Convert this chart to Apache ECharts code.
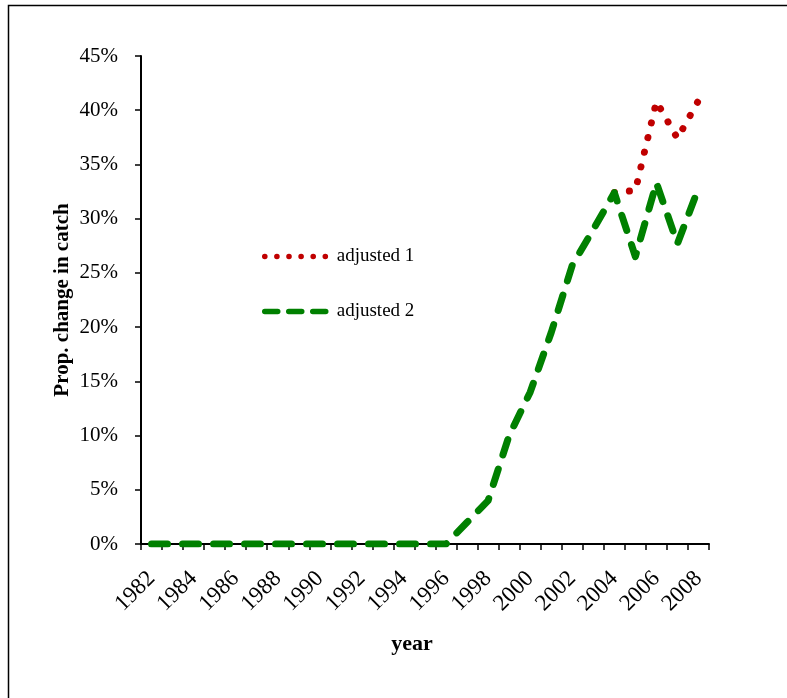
<!DOCTYPE html>
<html>
<head>
<meta charset="utf-8">
<script src="https://cdn.jsdelivr.net/npm/echarts@6/dist/echarts.min.js"></script>
<style>
html,body{margin:0;padding:0;background:#fff;}
#chart{width:787px;height:698px;}
</style>
</head>
<body>
<div id="chart"></div>
<script>
const years = ['1982','1983','1984','1985','1986','1987','1988','1989','1990','1991','1992','1993','1994','1995','1996','1997','1998','1999','2000','2001','2002','2003','2004','2005','2006','2007','2008'];
const adjusted1 = [null,null,null,null,null,null,null,null,null,null,null,null,null,null,null,null,null,null,null,null,null,null,32.4,32.6,40.8,37.4,40.9];
const adjusted2 = [0,0,0,0,0,0,0,0,0,0,0,0,0,0,0,2.0,4.0,10.0,14.0,19.5,25.7,29.0,32.4,26.5,33.3,27.7,32.8];
const yTicks = {min:0, max:45, interval:5};

const FONT = '"Liberation Serif", "Times New Roman", serif';
const chart = echarts.init(document.getElementById('chart'), null, {renderer:'canvas'});
chart.setOption({
  animation:false,
  backgroundColor:'#fff',
  graphic:[{
    type:'rect', silent:true,
    shape:{x:8.5, y:5.5, width:900, height:900},
    style:{fill:'none', stroke:'#000', lineWidth:1.5}
  }],
  grid:{left:141, right:78, top:56, bottom:154},
  legend:{
    orient:'vertical', left:257, top:242,
    itemWidth:67, itemHeight:14, itemGap:36,
    textStyle:{fontFamily:FONT, fontSize:19, color:'#000'},
    data:[
      {name:'adjusted 1', itemStyle:{opacity:0}, lineStyle:{width:5.5, type:[0.1,12], cap:'round', color:'#c00000'}},
      {name:'adjusted 2', itemStyle:{opacity:0}, lineStyle:{width:5.5, type:[13,11], cap:'round', color:'#008000'}}
    ]
  },
  xAxis:{
    type:'category', data:years, boundaryGap:true,
    name:'year', nameLocation:'middle', nameGap:89,
    nameTextStyle:{fontFamily:FONT, fontSize:22, fontWeight:'bold', color:'#000', padding:[0,26,0,0]},
    axisLine:{lineStyle:{color:'#000', width:2}},
    axisTick:{show:true, interval:0, length:6, lineStyle:{color:'#000', width:1.5}},
    axisLabel:{interval:1, rotate:45, margin:31, fontFamily:FONT, fontSize:23, color:'#000'},
    splitLine:{show:false}
  },
  yAxis:{
    type:'value', min:yTicks.min, max:yTicks.max, interval:yTicks.interval,
    name:'Prop. change in catch', nameLocation:'middle', nameGap:68, nameMoveOverlap:false,
    nameTextStyle:{fontFamily:FONT, fontSize:21, fontWeight:'bold', color:'#000', padding:[0,0,0,0]},
    axisLine:{show:true, lineStyle:{color:'#000', width:2}},
    axisTick:{show:true, length:6, lineStyle:{color:'#000', width:1.5}},
    axisLabel:{formatter:'{value}%', margin:23, fontFamily:FONT, fontSize:21, color:'#000'},
    splitLine:{show:false}
  },
  series:[
    {name:'adjusted 1', type:'line', data:adjusted1, symbol:'none', connectNulls:false,
     lineStyle:{color:'#c00000', width:7, type:[0.1,15], cap:'round'},
     itemStyle:{color:'#c00000'}},
    {name:'adjusted 2', type:'line', data:adjusted2, symbol:'none',
     lineStyle:{color:'#008000', width:7, type:[16,15], cap:'round', join:'round'},
     itemStyle:{color:'#008000'}}
  ]
});
</script>
</body>
</html>
